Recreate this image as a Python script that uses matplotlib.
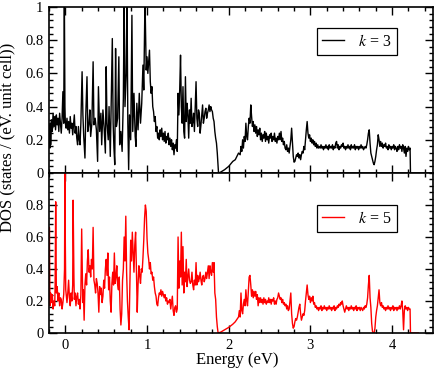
import numpy as np
import matplotlib
matplotlib.use("Agg")
import matplotlib.pyplot as plt
from matplotlib.ticker import MultipleLocator, FuncFormatter

# DOS, (energy eV, states / (eV unit cell))
k3_points = [
    (-0.20, 0.21), (-0.195, 0.28), (-0.19, 0.15), (-0.185, 0.30), (-0.18, 0.17), (-0.17, 0.32),
    (-0.16, 0.25), (-0.15, 0.36), (-0.14, 0.28), (-0.13, 0.34), (-0.12, 0.26), (-0.11, 0.35),
    (-0.10, 0.29), (-0.09, 0.33), (-0.08, 0.25), (-0.07, 0.36), (-0.06, 0.30), (-0.05, 0.24),
    (-0.04, 0.33), (-0.03, 0.49), (-0.02, 0.30), (-0.012, 1.05), (-0.005, 0.40), (0.00, 0.30),
    (0.01, 0.27), (0.02, 0.33), (0.03, 0.26), (0.04, 0.31), (0.05, 0.24), (0.06, 0.34),
    (0.07, 0.27), (0.08, 0.30), (0.09, 0.23), (0.10, 0.29), (0.11, 0.35), (0.12, 0.24),
    (0.13, 0.28), (0.14, 0.21), (0.15, 0.17), (0.16, 0.28), (0.17, 0.20), (0.18, 0.17),
    (0.19, 0.30), (0.205, 0.61), (0.215, 0.35), (0.225, 0.22), (0.24, 0.09), (0.25, 0.35),
    (0.265, 0.58), (0.275, 0.25), (0.29, 0.30), (0.30, 0.38), (0.31, 0.22), (0.325, 0.30),
    (0.34, 0.67), (0.35, 0.29), (0.365, 0.33), (0.38, 0.26), (0.395, 0.07), (0.405, 0.52),
    (0.42, 0.25), (0.435, 0.36), (0.445, 0.17), (0.46, 0.38), (0.475, 0.27), (0.49, 0.12),
    (0.50, 0.64), (0.51, 0.30), (0.525, 0.20), (0.535, 0.40), (0.55, 0.10), (0.565, 0.55),
    (0.575, 0.81), (0.585, 0.30), (0.595, 0.15), (0.605, 0.05), (0.615, 0.75), (0.625, 0.28),
    (0.64, 0.33), (0.655, 0.70), (0.665, 0.17), (0.68, 0.25), (0.695, 0.13), (0.71, 0.45),
    (0.72, 1.05), (0.73, 0.40), (0.745, 0.60), (0.755, 1.05), (0.765, 0.30), (0.775, 0.02),
    (0.785, 0.35), (0.80, 0.20), (0.815, 0.95), (0.825, 0.25), (0.84, 0.48), (0.855, 0.22),
    (0.865, 0.16), (0.875, 0.42), (0.89, 0.26), (0.905, 0.48), (0.92, 0.30), (0.935, 0.42),
    (0.95, 0.65), (0.96, 0.50), (0.975, 1.05), (0.99, 0.62), (1.00, 0.70), (1.01, 0.60),
    (1.03, 0.74), (1.04, 0.55), (1.05, 0.48), (1.06, 0.52), (1.07, 0.40), (1.08, 0.37),
    (1.09, 0.31), (1.10, 0.34), (1.11, 0.25), (1.12, 0.28), (1.13, 0.21), (1.14, 0.24),
    (1.15, 0.20), (1.16, 0.26), (1.17, 0.22), (1.18, 0.27), (1.19, 0.20), (1.20, 0.24),
    (1.21, 0.19), (1.22, 0.25), (1.23, 0.18), (1.24, 0.22), (1.25, 0.20), (1.26, 0.24),
    (1.27, 0.17), (1.28, 0.21), (1.29, 0.16), (1.30, 0.20), (1.31, 0.14), (1.32, 0.18),
    (1.33, 0.11), (1.34, 0.17), (1.35, 0.15), (1.36, 0.20), (1.37, 0.13), (1.38, 0.48),
    (1.39, 0.35), (1.40, 0.50), (1.41, 0.71), (1.42, 0.40), (1.43, 0.30), (1.44, 0.52),
    (1.45, 0.25), (1.46, 0.21), (1.47, 0.58), (1.48, 0.31), (1.49, 0.42), (1.50, 0.35),
    (1.51, 0.21), (1.52, 0.38), (1.53, 0.30), (1.54, 0.45), (1.55, 0.28), (1.56, 0.31),
    (1.57, 0.36), (1.58, 0.25), (1.59, 0.40), (1.60, 0.55), (1.61, 0.33), (1.62, 0.28),
    (1.63, 0.38), (1.64, 0.36), (1.65, 0.24), (1.66, 0.29), (1.67, 0.35), (1.68, 0.41),
    (1.69, 0.30), (1.70, 0.33), (1.71, 0.37), (1.72, 0.39), (1.73, 0.33), (1.74, 0.36),
    (1.75, 0.38), (1.76, 0.41), (1.77, 0.37), (1.78, 0.40), (1.79, 0.38), (1.80, 0.37),
    (1.81, 0.33), (1.82, 0.31), (1.83, 0.25), (1.84, 0.21), (1.85, 0.18), (1.86, 0.12),
    (1.875, 0.0), (1.90, 0.005), (1.95, 0.02), (2.00, 0.04), (2.05, 0.07), (2.08, 0.08),
    (2.10, 0.10), (2.12, 0.12), (2.14, 0.11), (2.15, 0.16), (2.16, 0.13), (2.17, 0.20),
    (2.18, 0.15), (2.19, 0.22), (2.20, 0.19), (2.21, 0.30), (2.22, 0.22), (2.23, 0.20),
    (2.24, 0.28), (2.25, 0.33), (2.26, 0.30), (2.27, 0.41), (2.28, 0.34), (2.29, 0.28),
    (2.30, 0.31), (2.31, 0.25), (2.32, 0.29), (2.33, 0.24), (2.34, 0.28), (2.35, 0.22),
    (2.36, 0.26), (2.37, 0.23), (2.38, 0.27), (2.39, 0.20), (2.40, 0.24), (2.41, 0.19),
    (2.42, 0.23), (2.43, 0.21), (2.44, 0.25), (2.45, 0.19), (2.46, 0.24), (2.47, 0.20),
    (2.48, 0.22), (2.49, 0.18), (2.50, 0.23), (2.51, 0.21), (2.52, 0.24), (2.53, 0.19),
    (2.54, 0.22), (2.55, 0.20), (2.56, 0.24), (2.57, 0.19), (2.58, 0.21), (2.59, 0.18),
    (2.60, 0.22), (2.61, 0.20), (2.62, 0.24), (2.63, 0.20), (2.64, 0.25), (2.65, 0.19),
    (2.66, 0.21), (2.67, 0.17), (2.68, 0.19), (2.69, 0.15), (2.70, 0.14), (2.71, 0.17),
    (2.72, 0.13), (2.73, 0.15), (2.74, 0.12), (2.75, 0.16), (2.76, 0.20), (2.77, 0.27),
    (2.78, 0.18), (2.79, 0.10), (2.80, 0.065), (2.81, 0.07), (2.82, 0.09), (2.83, 0.11),
    (2.84, 0.10), (2.85, 0.12), (2.86, 0.09), (2.87, 0.11), (2.88, 0.08), (2.89, 0.11),
    (2.90, 0.13), (2.91, 0.12), (2.92, 0.16), (2.93, 0.14), (2.94, 0.20), (2.95, 0.26),
    (2.96, 0.31), (2.97, 0.24), (2.98, 0.21), (2.99, 0.23), (3.00, 0.19), (3.01, 0.21),
    (3.02, 0.18), (3.03, 0.20), (3.04, 0.17), (3.05, 0.19), (3.06, 0.16), (3.07, 0.18),
    (3.08, 0.15), (3.09, 0.17), (3.10, 0.15), (3.11, 0.16), (3.12, 0.15), (3.13, 0.17),
    (3.14, 0.15), (3.15, 0.16), (3.16, 0.14), (3.17, 0.16), (3.18, 0.15), (3.19, 0.17),
    (3.20, 0.15), (3.21, 0.16), (3.22, 0.14), (3.23, 0.17), (3.24, 0.15), (3.25, 0.16),
    (3.26, 0.15), (3.27, 0.17), (3.28, 0.14), (3.29, 0.16), (3.30, 0.15), (3.31, 0.18),
    (3.32, 0.19), (3.33, 0.15), (3.34, 0.17), (3.35, 0.14), (3.36, 0.16), (3.37, 0.15),
    (3.38, 0.17), (3.39, 0.16), (3.40, 0.18), (3.41, 0.15), (3.42, 0.16), (3.43, 0.14),
    (3.44, 0.16), (3.45, 0.15), (3.46, 0.17), (3.47, 0.15), (3.48, 0.16), (3.49, 0.14),
    (3.50, 0.17), (3.51, 0.15), (3.52, 0.16), (3.53, 0.15), (3.54, 0.17), (3.55, 0.14),
    (3.56, 0.16), (3.57, 0.15), (3.58, 0.16), (3.59, 0.14), (3.60, 0.16), (3.61, 0.15),
    (3.62, 0.17), (3.63, 0.15), (3.64, 0.16), (3.65, 0.14), (3.66, 0.15), (3.67, 0.16),
    (3.68, 0.15), (3.69, 0.17), (3.70, 0.20), (3.71, 0.24), (3.72, 0.26), (3.73, 0.18),
    (3.74, 0.12), (3.75, 0.10), (3.76, 0.08), (3.77, 0.06), (3.78, 0.05), (3.79, 0.07),
    (3.80, 0.10), (3.81, 0.14), (3.82, 0.17), (3.83, 0.23), (3.84, 0.20), (3.85, 0.16),
    (3.86, 0.19), (3.87, 0.16), (3.88, 0.18), (3.89, 0.15), (3.90, 0.17), (3.91, 0.16),
    (3.92, 0.18), (3.93, 0.15), (3.94, 0.16), (3.95, 0.14), (3.96, 0.17), (3.97, 0.15),
    (3.98, 0.16), (3.99, 0.14), (4.00, 0.16), (4.01, 0.15), (4.02, 0.17), (4.03, 0.14),
    (4.04, 0.16), (4.05, 0.15), (4.06, 0.13), (4.07, 0.16), (4.08, 0.14), (4.09, 0.17),
    (4.10, 0.15), (4.11, 0.16), (4.12, 0.13), (4.13, 0.17), (4.14, 0.15), (4.15, 0.12),
    (4.16, 0.16), (4.17, 0.10), (4.18, 0.15), (4.19, 0.13), (4.20, 0.16), (4.21, 0.14),
    (4.22, 0.15), (4.225, 0.0),
]

k5_points = [
    (-0.20, 0.21), (-0.195, 0.66), (-0.19, 0.27), (-0.185, 0.17), (-0.18, 0.25), (-0.17, 0.19),
    (-0.16, 0.24), (-0.15, 0.15), (-0.14, 0.20), (-0.13, 0.17), (-0.125, 0.30), (-0.118, 0.82),
    (-0.11, 0.25), (-0.10, 0.29), (-0.09, 0.20), (-0.08, 0.25), (-0.07, 0.17), (-0.06, 0.22),
    (-0.05, 0.21), (-0.04, 0.15), (-0.03, 0.19), (-0.02, 0.24), (-0.01, 0.40), (-0.005, 1.05),
    (0.00, 0.55), (0.005, 0.27), (0.02, 0.19), (0.03, 0.25), (0.04, 0.33), (0.05, 0.22),
    (0.06, 0.17), (0.07, 0.25), (0.08, 0.20), (0.09, 0.30), (0.095, 0.83), (0.105, 0.35),
    (0.11, 0.21), (0.12, 0.25), (0.13, 0.17), (0.14, 0.23), (0.15, 0.25), (0.16, 0.18),
    (0.17, 0.21), (0.18, 0.15), (0.19, 0.24), (0.20, 0.65), (0.21, 0.30), (0.215, 0.19),
    (0.22, 0.27), (0.23, 0.08), (0.24, 0.30), (0.25, 0.37), (0.26, 0.30), (0.27, 0.45),
    (0.28, 0.52), (0.29, 0.38), (0.30, 0.42), (0.31, 0.35), (0.32, 0.46), (0.33, 0.40),
    (0.34, 0.66), (0.35, 0.33), (0.36, 0.30), (0.37, 0.25), (0.38, 0.34), (0.39, 0.31),
    (0.40, 0.25), (0.41, 0.13), (0.42, 0.29), (0.43, 0.24), (0.44, 0.28), (0.45, 0.19),
    (0.46, 0.23), (0.47, 0.33), (0.48, 0.28), (0.49, 0.40), (0.50, 0.46), (0.51, 0.36),
    (0.52, 0.50), (0.53, 0.27), (0.54, 0.35), (0.55, 0.20), (0.56, 0.13), (0.57, 0.31),
    (0.58, 0.38), (0.59, 0.30), (0.60, 0.50), (0.61, 0.31), (0.62, 0.35), (0.63, 0.42),
    (0.64, 0.30), (0.65, 0.27), (0.66, 0.35), (0.67, 0.15), (0.68, 0.05), (0.69, 0.12),
    (0.70, 0.33), (0.71, 0.40), (0.72, 0.60), (0.73, 0.45), (0.74, 0.73), (0.75, 0.38),
    (0.76, 0.20), (0.77, 0.10), (0.78, 0.02), (0.79, 0.30), (0.80, 0.58), (0.81, 0.45),
    (0.82, 0.63), (0.83, 0.50), (0.84, 0.38), (0.85, 0.55), (0.86, 0.63), (0.87, 0.40),
    (0.88, 0.13), (0.89, 0.30), (0.90, 0.42), (0.91, 0.36), (0.92, 0.31), (0.93, 0.40),
    (0.94, 0.38), (0.95, 0.47), (0.96, 0.58), (0.97, 0.72), (0.98, 0.80), (0.99, 0.76),
    (1.00, 0.59), (1.01, 0.50), (1.02, 0.46), (1.03, 0.40), (1.04, 0.44), (1.05, 0.37),
    (1.06, 0.38), (1.07, 0.33), (1.08, 0.35), (1.09, 0.29), (1.10, 0.25), (1.11, 0.23),
    (1.12, 0.18), (1.13, 0.17), (1.14, 0.22), (1.15, 0.25), (1.16, 0.24), (1.17, 0.27),
    (1.18, 0.23), (1.19, 0.26), (1.20, 0.24), (1.21, 0.22), (1.22, 0.24), (1.23, 0.20),
    (1.24, 0.22), (1.25, 0.18), (1.26, 0.20), (1.27, 0.19), (1.28, 0.21), (1.29, 0.15),
    (1.30, 0.19), (1.31, 0.23), (1.32, 0.14), (1.33, 0.11), (1.34, 0.16), (1.35, 0.17),
    (1.36, 0.13), (1.37, 0.15), (1.38, 0.60), (1.39, 0.28), (1.40, 0.45), (1.41, 0.35),
    (1.42, 0.63), (1.43, 0.30), (1.44, 0.54), (1.45, 0.25), (1.46, 0.38), (1.47, 0.32),
    (1.48, 0.46), (1.49, 0.29), (1.50, 0.35), (1.51, 0.40), (1.52, 0.33), (1.53, 0.31),
    (1.54, 0.32), (1.55, 0.38), (1.56, 0.30), (1.57, 0.27), (1.58, 0.33), (1.59, 0.30),
    (1.60, 0.44), (1.61, 0.30), (1.62, 0.36), (1.63, 0.32), (1.64, 0.34), (1.65, 0.38),
    (1.66, 0.33), (1.67, 0.30), (1.68, 0.35), (1.69, 0.36), (1.70, 0.32), (1.71, 0.34),
    (1.72, 0.38), (1.73, 0.34), (1.74, 0.38), (1.75, 0.42), (1.76, 0.34), (1.77, 0.42),
    (1.78, 0.38), (1.79, 0.36), (1.80, 0.44), (1.81, 0.38), (1.82, 0.44), (1.83, 0.25),
    (1.84, 0.21), (1.85, 0.10), (1.86, 0.04), (1.87, 0.0), (1.90, 0.005), (1.95, 0.02),
    (2.00, 0.035), (2.05, 0.055), (2.08, 0.07), (2.10, 0.085), (2.12, 0.10), (2.13, 0.14),
    (2.14, 0.10), (2.15, 0.25), (2.16, 0.14), (2.17, 0.12), (2.18, 0.18), (2.19, 0.21),
    (2.20, 0.17), (2.21, 0.27), (2.22, 0.20), (2.23, 0.17), (2.24, 0.26), (2.25, 0.35),
    (2.26, 0.36), (2.27, 0.30), (2.28, 0.23), (2.29, 0.27), (2.30, 0.22), (2.31, 0.26),
    (2.32, 0.23), (2.33, 0.26), (2.34, 0.21), (2.35, 0.24), (2.36, 0.17), (2.37, 0.22),
    (2.38, 0.19), (2.39, 0.22), (2.40, 0.19), (2.41, 0.21), (2.42, 0.18), (2.43, 0.22),
    (2.44, 0.19), (2.45, 0.21), (2.46, 0.18), (2.47, 0.20), (2.48, 0.19), (2.49, 0.22),
    (2.50, 0.19), (2.51, 0.21), (2.52, 0.18), (2.53, 0.21), (2.54, 0.20), (2.55, 0.22),
    (2.56, 0.18), (2.57, 0.20), (2.58, 0.18), (2.59, 0.21), (2.60, 0.22), (2.61, 0.25),
    (2.62, 0.23), (2.63, 0.21), (2.64, 0.22), (2.65, 0.19), (2.66, 0.21), (2.67, 0.18),
    (2.68, 0.19), (2.69, 0.17), (2.70, 0.18), (2.71, 0.15), (2.72, 0.17), (2.73, 0.14),
    (2.74, 0.15), (2.75, 0.20), (2.76, 0.25), (2.77, 0.12), (2.78, 0.06), (2.79, 0.03),
    (2.80, 0.04), (2.81, 0.07), (2.82, 0.09), (2.83, 0.08), (2.84, 0.10), (2.85, 0.13),
    (2.86, 0.16), (2.87, 0.18), (2.88, 0.12), (2.89, 0.08), (2.90, 0.10), (2.91, 0.12),
    (2.92, 0.11), (2.93, 0.14), (2.94, 0.20), (2.95, 0.25), (2.96, 0.30), (2.97, 0.24),
    (2.98, 0.21), (2.99, 0.23), (3.00, 0.19), (3.01, 0.22), (3.02, 0.20), (3.03, 0.23),
    (3.04, 0.18), (3.05, 0.19), (3.06, 0.16), (3.07, 0.17), (3.08, 0.15), (3.09, 0.16),
    (3.10, 0.14), (3.11, 0.16), (3.12, 0.15), (3.13, 0.17), (3.14, 0.14), (3.15, 0.16),
    (3.16, 0.15), (3.17, 0.17), (3.18, 0.15), (3.19, 0.16), (3.20, 0.14), (3.21, 0.16),
    (3.22, 0.15), (3.23, 0.17), (3.24, 0.15), (3.25, 0.16), (3.26, 0.14), (3.27, 0.16),
    (3.28, 0.15), (3.29, 0.17), (3.30, 0.14), (3.31, 0.16), (3.32, 0.15), (3.33, 0.17),
    (3.34, 0.16), (3.35, 0.18), (3.36, 0.17), (3.37, 0.19), (3.38, 0.18), (3.39, 0.20),
    (3.40, 0.17), (3.41, 0.15), (3.42, 0.13), (3.43, 0.15), (3.44, 0.17), (3.45, 0.15),
    (3.46, 0.16), (3.47, 0.14), (3.48, 0.16), (3.49, 0.15), (3.50, 0.17), (3.51, 0.15),
    (3.52, 0.16), (3.53, 0.14), (3.54, 0.16), (3.55, 0.15), (3.56, 0.17), (3.57, 0.14),
    (3.58, 0.16), (3.59, 0.15), (3.60, 0.16), (3.61, 0.14), (3.62, 0.16), (3.63, 0.15),
    (3.64, 0.14), (3.65, 0.16), (3.66, 0.15), (3.67, 0.17), (3.68, 0.16), (3.69, 0.18),
    (3.70, 0.22), (3.71, 0.30), (3.72, 0.36), (3.73, 0.22), (3.74, 0.16), (3.75, 0.06),
    (3.76, 0.01), (3.77, 0.0), (3.78, 0.0), (3.79, 0.03), (3.80, 0.10), (3.81, 0.14),
    (3.82, 0.17), (3.83, 0.22), (3.84, 0.27), (3.85, 0.19), (3.86, 0.17), (3.87, 0.19),
    (3.88, 0.16), (3.89, 0.17), (3.90, 0.15), (3.91, 0.16), (3.92, 0.14), (3.93, 0.16),
    (3.94, 0.15), (3.95, 0.17), (3.96, 0.15), (3.97, 0.16), (3.98, 0.14), (3.99, 0.16),
    (4.00, 0.15), (4.01, 0.17), (4.02, 0.14), (4.03, 0.16), (4.04, 0.15), (4.05, 0.16),
    (4.06, 0.14), (4.07, 0.16), (4.08, 0.15), (4.09, 0.17), (4.10, 0.15), (4.11, 0.17),
    (4.12, 0.20), (4.13, 0.14), (4.14, 0.02), (4.15, 0.14), (4.16, 0.17), (4.17, 0.15),
    (4.18, 0.16), (4.19, 0.14), (4.20, 0.16), (4.21, 0.15), (4.22, 0.15), (4.225, 0.0),
    (4.32, 0.0),
]

e3, dos3 = np.array(k3_points).T
e5, dos5 = np.array(k5_points).T

plt.rcParams['font.family'] = ['Liberation Serif', 'DejaVu Serif']
plt.rcParams['mathtext.fontset'] = 'stix'

fig = plt.figure(figsize=(4.36, 3.69), dpi=100)
ax1 = fig.add_axes([0.1124, 0.5312, 0.8806, 0.4498])
ax2 = fig.add_axes([0.1124, 0.0976, 0.8806, 0.4336])

ax1.plot(e3, dos3, color='black', lw=1.0, label=r'$k$ = 3')
ax2.plot(e5, dos5, color='red', lw=1.0, label=r'$k$ = 5')

fmt = FuncFormatter(lambda v, p: '%g' % round(v, 2))
for ax in (ax1, ax2):
    ax.set_xlim(-0.2, 4.5)
    ax.set_ylim(0, 1)
    ax.xaxis.set_major_locator(MultipleLocator(1))
    ax.xaxis.set_minor_locator(MultipleLocator(0.2))
    ax.yaxis.set_major_locator(MultipleLocator(0.2))
    ax.yaxis.set_minor_locator(MultipleLocator(0.04))
    ax.yaxis.set_major_formatter(fmt)
    ax.xaxis.set_major_formatter(fmt)
    ax.tick_params(which='both', direction='in', top=True, right=True, width=1.0,
                   labelsize=10.5, pad=4)
    ax.tick_params(which='major', length=5.5)
    ax.tick_params(which='minor', length=2.8)
    for s in ax.spines.values():
        s.set_linewidth(1.2)
    leg = ax.legend(loc='upper right', fontsize=11.5, frameon=True, fancybox=False,
                    edgecolor='black', framealpha=1, handlelength=1.35,
                    handletextpad=0.9, borderpad=0.35, borderaxespad=0)
    leg.get_frame().set_linewidth(0.9)

ax1.legend_.set_bbox_to_anchor((0.907, 0.873))
ax2.legend_.set_bbox_to_anchor((0.907, 0.80))

ax1.tick_params(labelbottom=False)
ax2.set_yticks([0, 0.2, 0.4, 0.6, 0.8])

fig.text(237.5 / 436, 0.024, 'Energy (eV)', ha='center', va='center', fontsize=12)
fig.text(7 / 436, 0.627, 'DOS (states / (eV. unit cell))', ha='center', va='center',
         rotation=90, fontsize=12)

fig.savefig('out.png', dpi=100)
